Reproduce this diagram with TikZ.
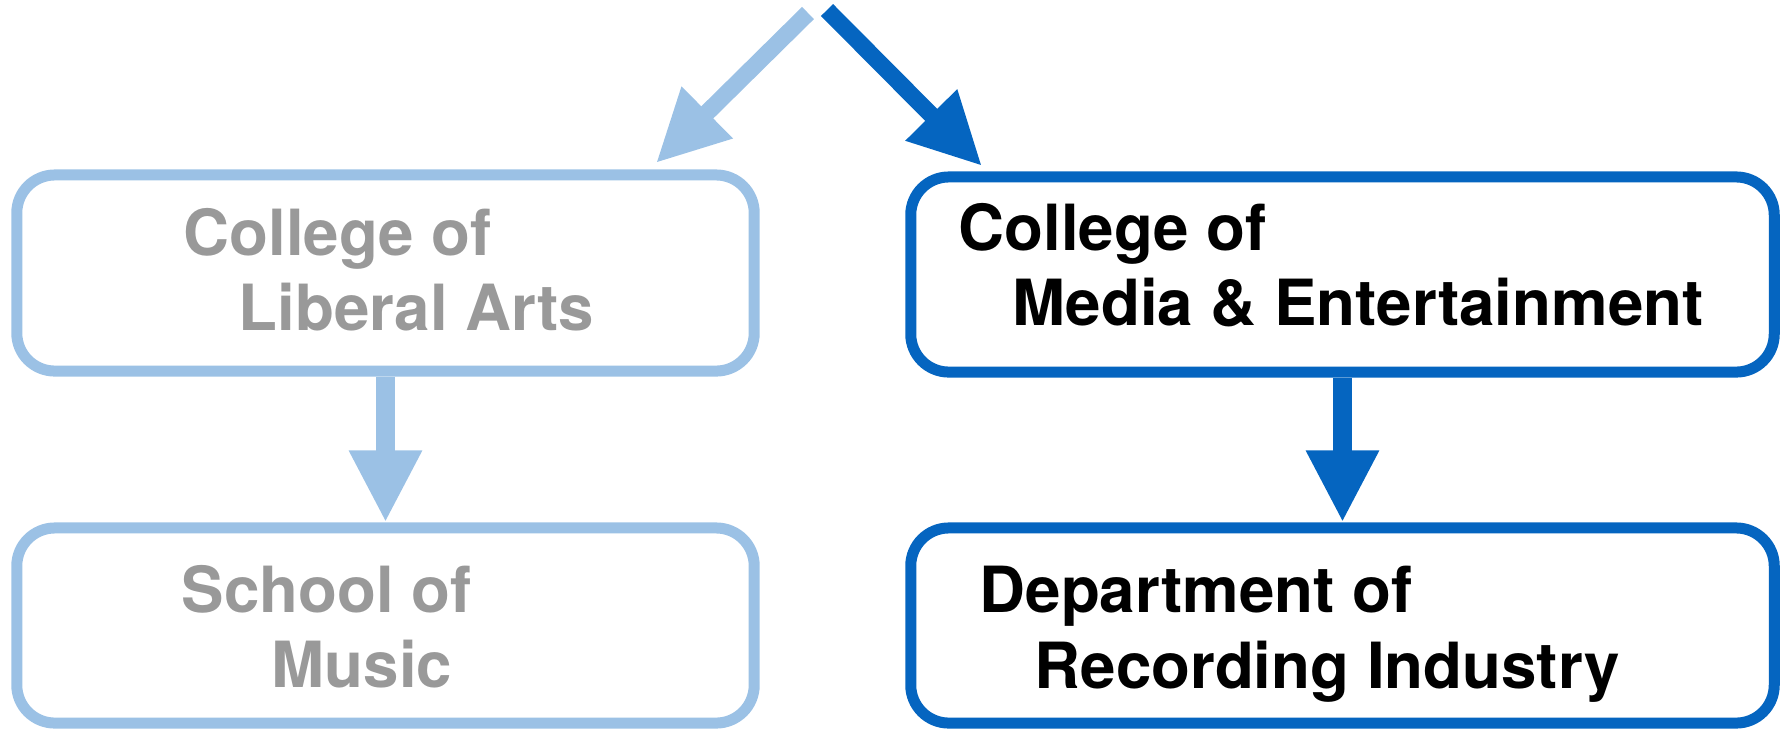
\documentclass[tikz,border=0pt]{standalone}
\usepackage{fontspec}
\setmainfont{TeX Gyre Heros}
\usetikzlibrary{arrows.meta}

\definecolor{paleblue}{HTML}{9BC1E5}
\definecolor{deepblue}{HTML}{0565C0}
\definecolor{fadedgray}{HTML}{999999}

\tikzset{
    unit/.style={draw=#1, rectangle, rounded corners=0.38cm, line width=0.11cm, fill=white},
    caption/.style={anchor=base west, inner sep=0pt,
        font=\fontsize{18.1}{22}\selectfont\bfseries},
    flow/.style={line width=#1, -{Triangle[length=0.72cm, width=0.68cm]}}
}

\begin{document}
\begin{tikzpicture}[x=0.01cm, y=-0.01cm]
    \useasboundingbox (0,0) rectangle (1787,729);

    % the four units
    \node[unit=paleblue, minimum width=7.37cm, minimum height=1.96cm] (liberal arts) at (385.5,273) {};
    \node[unit=paleblue, minimum width=7.37cm, minimum height=1.95cm] (music) at (385.5,625.5) {};
    \node[unit=deepblue, minimum width=8.63cm, minimum height=1.95cm] (media) at (1342.5,274.5) {};
    \node[unit=deepblue, minimum width=8.63cm, minimum height=1.95cm] (recording) at (1342.5,625.5) {};

    % names, second line set in a little
    \node[caption, fadedgray] (liberal arts-1) at (183,255) {College of};
    \node[caption, fadedgray] (liberal arts-2) at (238,330) {Liberal Arts};
    \node[caption, fadedgray] (music-1) at (181,612) {School of};
    \node[caption, fadedgray] (music-2) at (271,687) {Music};
    \node[caption] (media-1) at (958,250) {College of};
    \node[caption] (media-2) at (1012,325) {Media \& Entertainment};
    \node[caption] (recording-1) at (979,612) {Department of};
    \node[caption] (recording-2) at (1034,688) {Recording Industry};

    % split at the top
    \coordinate (split left) at (808,13);
    \coordinate (split right) at (827,10);
    \coordinate (liberal arts in) at (656,163);
    \coordinate (media in) at (982,166);

    \draw[flow=0.17cm, paleblue] (split left) -- (liberal arts in);
    \draw[flow=0.17cm, deepblue] (split right) -- (media in);

    \draw[flow=0.19cm, paleblue] (liberal arts.south) -- (music.north);
    \draw[flow=0.19cm, deepblue] (media.south) -- (recording.north);
\end{tikzpicture}
\end{document}
